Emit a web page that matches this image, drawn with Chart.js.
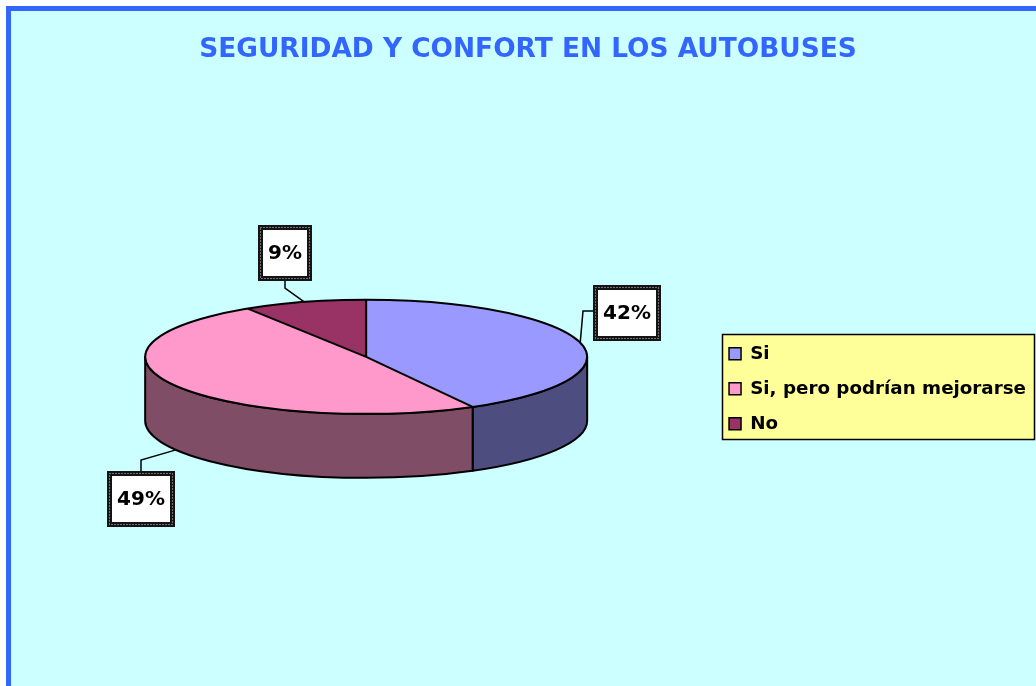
<!DOCTYPE html>
<html>
<head>
<meta charset="utf-8">
<script src="https://cdn.jsdelivr.net/npm/chart.js@4"></script>
<style>
  html, body { margin: 0; padding: 0; background: #fff; overflow: hidden; }
  #frame {
    position: absolute; left: 6px; top: 6px; width: 1100px; height: 760px;
    background: #ccffff; border-left: 5px solid #3366ff; border-top: 5px solid #3366ff;
  }
  #chart { position: absolute; left: 0; top: 0; }
</style>
</head>
<body>
<div id="frame"></div>
<canvas id="chart" width="1036" height="686"></canvas>
<script>
// datos del grafico
const categories = ["Si", "Si, pero podrían mejorarse", "No"];
const values = [42, 49, 9];

const sliceColors = ["#9999ff", "#ff99cc", "#993366"];
const TILT = 0.258;   // alto / ancho de la elipse superior
const DEPTH = 64;     // grosor del "queso"
const FONT = "DejaVu Sans";
const EDGE = 2;       // grosor del contorno negro

// donde va cada etiqueta respecto a su punto de anclaje
const labelLayout = [
  { dx: 47, dy: -30, edge: "left" },
  { dx: -35, dy: 49, edge: "top" },
  { dx: -20, dy: -49, edge: "bottom" },
];

function darker(hex) {
  const n = parseInt(hex.slice(1), 16);
  const r = (n >> 16) & 255, g = (n >> 8) & 255, b = n & 255;
  return `rgb(${Math.round(r / 2)},${Math.round(g / 2)},${Math.round(b / 2)})`;
}

function pieGeom(chart) {
  const arcs = chart.getDatasetMeta(0).data;
  const rx = arcs[0].outerRadius;
  return { arcs, cx: arcs[0].x, cy: arcs[0].y - DEPTH / 2, rx, ry: rx * TILT };
}

function drawLabelBox(ctx, x, y, w, h) {
  ctx.fillStyle = "#141414";
  ctx.fillRect(x, y, w, h);
  ctx.strokeStyle = "#cfcfcf";
  ctx.lineWidth = 1;
  ctx.setLineDash([1, 2]);
  ctx.strokeRect(x + 2.5, y + 2.5, w - 5, h - 5);
  ctx.setLineDash([]);
  ctx.fillStyle = "#fff";
  ctx.fillRect(x + 5, y + 5, w - 10, h - 10);
}

const pie3d = {
  id: "pie3d",
  beforeDraw(chart) {
    // fondo amarillo de la leyenda
    const ctx = chart.ctx;
    const hb = chart.legend.legendHitBoxes;
    if (!hb || !hb.length) return;
    const last = hb[hb.length - 1];
    const x0 = Math.round(hb[0].left - 7) + 0.5;
    const y0 = Math.round(hb[0].top - 11) + 0.5;
    const y1 = Math.round(last.top + last.height + 6) + 0.5;
    ctx.save();
    ctx.fillStyle = "#ffff99";
    ctx.fillRect(x0, y0, chart.width - 1 - x0, y1 - y0);
    ctx.strokeStyle = "#000";
    ctx.lineWidth = 1.5;
    ctx.strokeRect(x0, y0, chart.width - 1.5 - x0, y1 - y0);
    ctx.restore();
  },
  beforeDatasetsDraw(chart) {
    const ctx = chart.ctx;
    const g = pieGeom(chart);
    // paredes laterales (solo la mitad delantera se ve)
    ctx.save();
    ctx.lineWidth = EDGE;
    ctx.strokeStyle = "#000";
    ctx.lineJoin = "round";
    g.arcs.forEach((arc, i) => {
      const a = Math.max(arc.startAngle, 0);
      const b = Math.min(arc.endAngle, Math.PI);
      if (a >= b) return;
      ctx.beginPath();
      ctx.ellipse(g.cx, g.cy, g.rx, g.ry, 0, a, b);
      ctx.ellipse(g.cx, g.cy + DEPTH, g.rx, g.ry, 0, b, a, true);
      ctx.closePath();
      ctx.fillStyle = darker(sliceColors[i]);
      ctx.fill();
      ctx.stroke();
    });
    ctx.restore();
    // aplastar la cara superior
    ctx.save();
    ctx.translate(g.cx, g.cy);
    ctx.scale(1, TILT);
    ctx.translate(-g.cx, -g.arcs[0].y);
  },
  afterDatasetsDraw(chart) {
    const ctx = chart.ctx;
    ctx.restore();
    const g = pieGeom(chart);

    ctx.save();
    ctx.lineWidth = EDGE;
    ctx.strokeStyle = "#000";
    ctx.beginPath();
    ctx.ellipse(g.cx, g.cy, g.rx, g.ry, 0, 0, Math.PI * 2);
    ctx.stroke();
    g.arcs.forEach(arc => {
      ctx.beginPath();
      ctx.moveTo(g.cx, g.cy);
      ctx.lineTo(g.cx + g.rx * Math.cos(arc.startAngle), g.cy + g.ry * Math.sin(arc.startAngle));
      ctx.stroke();
    });

    // etiquetas de porcentaje
    const total = values.reduce((s, v) => s + v, 0);
    ctx.font = `bold 20px "${FONT}"`;
    ctx.textAlign = "center";
    ctx.textBaseline = "middle";
    g.arcs.forEach((arc, i) => {
      const mid = (arc.startAngle + arc.endAngle) / 2;
      const ax = g.cx + g.rx * Math.cos(mid);
      let ay = g.cy + g.ry * Math.sin(mid);
      if (Math.sin(mid) > 0) ay += DEPTH;
      const lay = labelLayout[i];
      const text = Math.round(values[i] / total * 100) + "%";
      const w = Math.round(ctx.measureText(text).width) + 20;
      const h = 56;
      const bx = Math.round(ax + lay.dx - w / 2);
      const by = Math.round(ay + lay.dy - h / 2);
      let px, py, ex, ey;
      if (lay.edge === "left") { px = bx; py = by + h / 2 - 2; ex = px - 10; ey = py; }
      else if (lay.edge === "top") { px = bx + w / 2; py = by; ex = px; ey = py - 11; }
      else { px = bx + w / 2; py = by + h; ex = px; ey = py + 7; }
      ctx.strokeStyle = "#000";
      ctx.lineWidth = 1.5;
      ctx.beginPath();
      ctx.moveTo(ax, ay);
      ctx.lineTo(ex, ey);
      ctx.lineTo(px, py);
      ctx.stroke();
      drawLabelBox(ctx, bx, by, w, h);
      ctx.fillStyle = "#000";
      ctx.fillText(text, bx + w / 2, by + h / 2 + 1);
    });
    ctx.restore();
  }
};

new Chart(document.getElementById("chart"), {
  type: "pie",
  data: {
    labels: categories,
    datasets: [{
      data: values,
      backgroundColor: sliceColors,
      borderWidth: 0,
      hoverOffset: 0,
    }],
  },
  options: {
    responsive: false,
    animation: false,
    events: [],
    radius: 221,
    layout: { padding: { left: 20, right: 0, top: 0, bottom: 0 } },
    plugins: {
      title: {
        display: true,
        text: "SEGURIDAD Y CONFORT EN LOS AUTOBUSES",
        color: "#3366ff",
        font: { family: FONT, size: 26.4, weight: "bold" },
        padding: { top: 34, bottom: 26 },
      },
      legend: {
        position: "right",
        align: "center",
        fullSize: false,
        maxWidth: 324,
        labels: {
          font: { family: FONT, size: 18.3, weight: "bold" },
          color: "#000",
          boxWidth: 12,
          boxHeight: 12,
          padding: 16.7,
          generateLabels: () => categories.map((c, i) => ({
            text: c,
            fillStyle: sliceColors[i],
            strokeStyle: "#000",
            lineWidth: 1.5,
            hidden: false,
            index: i,
          })),
        },
      },
      tooltip: { enabled: false },
    },
  },
  plugins: [pie3d],
});
</script>
</body>
</html>
